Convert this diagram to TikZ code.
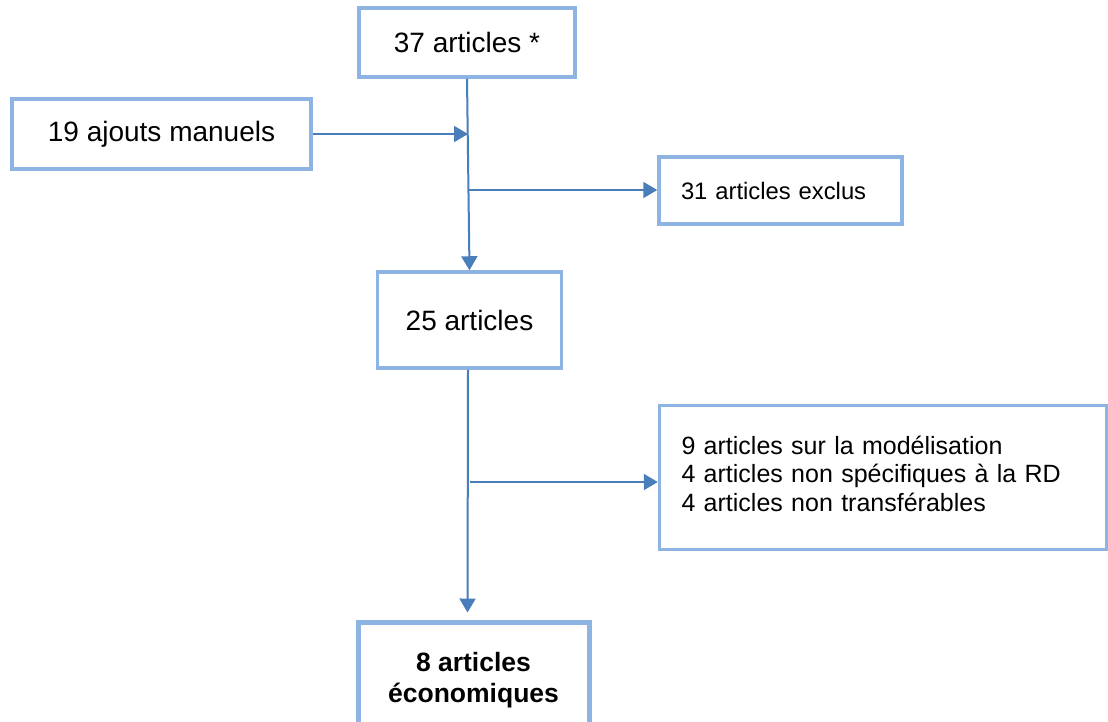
\documentclass[tikz,border=0pt]{standalone}
\usepackage{fontspec}
\setmainfont{Liberation Sans}
\usetikzlibrary{arrows.meta}
\definecolor{linecol}{HTML}{4A7EBB}
\definecolor{boxcol}{HTML}{8EB4E3}
\begin{document}
\begin{tikzpicture}[x=1pt,y=-1pt,
  box/.style={draw=boxcol,line width=3.5pt,rectangle,inner sep=0pt,anchor=center,align=center},
  bigtxt/.style={font=\fontsize{28}{33}\selectfont},
  arr/.style={draw=linecol,line width=2pt,-{Triangle[length=14pt,width=16pt]}}]
\useasboundingbox (0,0) rectangle (1108,721);
\fill[white] (0,0) rectangle (1108,721);
\node[box,bigtxt,minimum width=216pt,minimum height=69pt] (A) at (467,42.5) {37 articles *};
\node[box,bigtxt,minimum width=299pt,minimum height=70pt] (B) at (161.5,134) {19 ajouts manuels};
\node[box,font=\fontsize{23.8}{29}\selectfont,minimum width=243pt,minimum height=67pt,text width=199pt,inner xsep=22pt,align=left] (C) at (780.5,190.5) {31 articles exclus};
\node[box,bigtxt,minimum width=184pt,minimum height=96pt] (D) at (469.5,320) {25 articles};
\node[box,font=\fontsize{25}{28.5}\selectfont,minimum width=447pt,minimum height=144pt,text width=403pt,inner xsep=22pt,align=left,text depth=65pt] (E) at (883,477.5) {9 articles sur la modélisation\\4 articles non spécifiques à la RD\\4 articles non transférables};
\node[box,line width=5pt,font=\fontsize{26.5}{31}\selectfont\bfseries,minimum width=231pt,minimum height=116pt] (F) at (473.5,680) {8 articles\\économiques};
\coordinate (j1) at (468,134);
\coordinate (j2) at (469,190);
\coordinate (j3) at (470,482);
\draw[arr] (A.south) -- (D.north);
\draw[arr,shorten >=7pt] ([xshift=-1.5pt]D.south) -- ([xshift=-6pt]F.north);
\draw[arr] (B.east) -- (j1);
\draw[arr] (j2) -- (C.west |- j2);
\draw[arr] (j3) -- (E.west |- j3);
\end{tikzpicture}
\end{document}
